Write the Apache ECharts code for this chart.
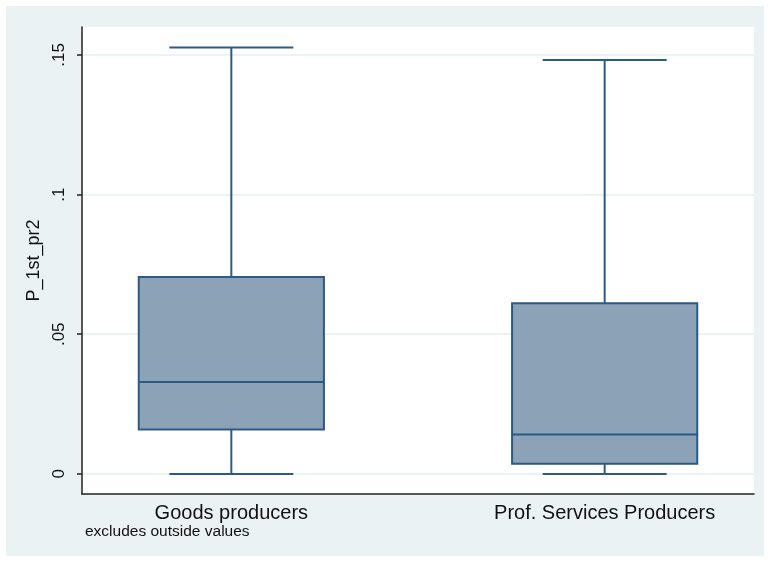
<!DOCTYPE html>
<html>
<head>
<meta charset="utf-8">
<script src="https://cdn.jsdelivr.net/npm/echarts@6/dist/echarts.min.js"></script>
<style>
  html, body { margin: 0; padding: 0; background: #fff; }
  #chart { width: 770px; height: 561px; }
</style>
</head>
<body>
<div id="chart"></div>
<script>
// groups and where they sit on the x scale (0..9)
const groups = ['Goods producers', 'Prof. Services Producers'];
const groupPos = [2, 7];

// box plot stats
const whiskerLow = [0, 0];
const q1 = [0.0159, 0.0036];
const median = [0.0329, 0.0141];
const q3 = [0.0705, 0.0611];
const whiskerHigh = [0.1527, 0.1482];

const yTicks = [0, 0.05, 0.1, 0.15];
const yTickLabels = ['0', '.05', '.1', '.15'];

const boxData = groupPos.map((x, i) => [x, whiskerLow[i], q1[i], median[i], q3[i], whiskerHigh[i]]);

const FONT = '"Liberation Sans", Arial, sans-serif';
const lineColor = '#2d5a84';
const fillColor = '#8ca2b7';

const chart = echarts.init(document.getElementById('chart'), null, { renderer: 'canvas' });

chart.setOption({
  animation: false,
  backgroundColor: '#fff',
  textStyle: { fontFamily: FONT },
  graphic: [
    {
      type: 'rect', z: -10, silent: true,
      shape: { x: 6, y: 6, width: 758, height: 550 },
      style: { fill: '#eaf2f3' }
    },
    {
      type: 'text', left: 85, top: 524, silent: true,
      style: { text: 'excludes outside values', fontSize: 15.5, fontFamily: FONT, fill: '#111' }
    }
  ],
  grid: {
    left: 82, right: 16, top: 27, bottom: 67,
    show: true, backgroundColor: '#fff', borderWidth: 0
  },
  xAxis: {
    type: 'value', min: 0, max: 9,
    axisLine: { show: true, onZero: false, lineStyle: { color: '#222', width: 1.5 } },
    axisTick: { show: false },
    splitLine: { show: false },
    axisLabel: {
      customValues: groupPos,
      formatter: v => groups[groupPos.indexOf(v)] || '',
      fontSize: 20, color: '#111', margin: 9
    }
  },
  yAxis: {
    type: 'value', min: -0.0072, max: 0.16,
    name: 'P_1st_pr2', nameLocation: 'middle', nameGap: 34,
    nameTextStyle: { fontSize: 18, color: '#111' },
    axisLine: { show: true, onZero: false, lineStyle: { color: '#222', width: 1.5 } },
    axisTick: { show: true, customValues: yTicks, length: 5, lineStyle: { color: '#222', width: 1.5 } },
    axisLabel: {
      customValues: yTicks,
      formatter: v => yTickLabels[yTicks.indexOf(v)] || '',
      rotate: 90, fontSize: 17, color: '#111', margin: 14
    },
    splitLine: { show: true, lineStyle: { color: '#e6eff0', width: 1.5 } }
  },
  series: [{
    type: 'custom',
    data: boxData,
    renderItem: (params, api) => {
      const x = api.value(0);
      const unit = api.size([1, 0])[0];
      const boxHalf = unit * 1.24;
      const capHalf = unit * 0.83;
      const lo = api.coord([x, api.value(1)]);
      const b1 = api.coord([x, api.value(2)]);
      const md = api.coord([x, api.value(3)]);
      const b3 = api.coord([x, api.value(4)]);
      const hi = api.coord([x, api.value(5)]);
      const cx = lo[0];
      const ls = { stroke: lineColor, lineWidth: 2 };
      return {
        type: 'group',
        children: [
          { type: 'line', shape: { x1: cx, y1: hi[1], x2: cx, y2: b3[1] }, style: ls },
          { type: 'line', shape: { x1: cx, y1: b1[1], x2: cx, y2: lo[1] }, style: ls },
          { type: 'line', shape: { x1: cx - capHalf, y1: hi[1], x2: cx + capHalf, y2: hi[1] }, style: ls },
          { type: 'line', shape: { x1: cx - capHalf, y1: lo[1], x2: cx + capHalf, y2: lo[1] }, style: ls },
          {
            type: 'rect',
            shape: { x: cx - boxHalf, y: b3[1], width: boxHalf * 2, height: b1[1] - b3[1] },
            style: { fill: fillColor, stroke: lineColor, lineWidth: 2 }
          },
          { type: 'line', shape: { x1: cx - boxHalf, y1: md[1], x2: cx + boxHalf, y2: md[1] }, style: ls }
        ]
      };
    }
  }]
});
</script>
</body>
</html>
